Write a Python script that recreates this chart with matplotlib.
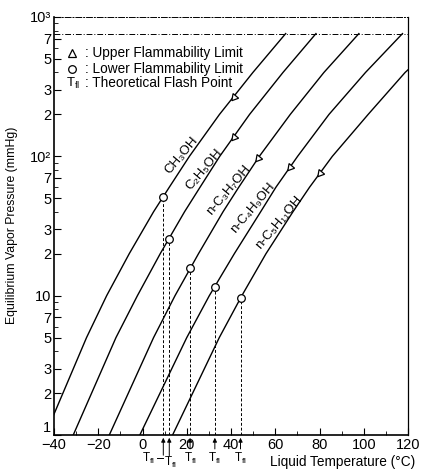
import numpy as np
import matplotlib
matplotlib.use("Agg")
import matplotlib.pyplot as plt
from matplotlib.ticker import FixedLocator, NullFormatter

plt.rcParams['font.family'] = ['Liberation Sans', 'DejaVu Sans']
plt.rcParams['mathtext.fontset'] = 'custom'
plt.rcParams['mathtext.rm'] = 'Liberation Sans'
plt.rcParams['mathtext.it'] = 'Liberation Sans'

# --- dados (pressao em mmHg, temperatura em C) ---
pressures = [1, 5, 10, 20, 40, 60, 100, 200, 400, 760]
t_methanol = [-44.0, -25.3, -16.2, -6.0, 5.0, 12.1, 21.2, 34.8, 49.9, 64.7]
t_ethanol = [-31.3, -12.0, -2.3, 8.0, 19.0, 26.0, 34.9, 48.4, 63.5, 78.4]
t_propanol = [-15.0, 5.0, 14.7, 25.3, 36.4, 43.5, 52.8, 66.8, 82.0, 97.8]
t_butanol = [-1.2, 20.0, 30.2, 41.5, 53.4, 60.3, 70.1, 84.3, 100.8, 117.5]
t_pentanol = [13.6, 34.7, 44.9, 55.8, 68.0, 75.5, 85.8, 102.0, 118.7, 137.8]

names = ["CH\u2083OH", "C\u2082H\u2085OH", "n-C\u2083H\u2087OH", "n-C\u2084H\u2089OH", "n-C\u2085H\u2081\u2081OH"]

# limite inferior (circulo) = ponto de fulgor teorico
lfl_t = [9.4, 12.1, 21.5, 32.7, 44.3]
lfl_p = [51, 25.5, 15.8, 11.6, 9.6]
# limite superior (triangulo)
ufl_t = [41.2, 41.2, 52.4, 66.7, 80.2]
ufl_p = [268, 138, 98, 84, 76]

# posicao dos nomes das curvas
label_t = [17.9, 27.8, 39.0, 50.1, 61.8]
label_p = [102, 80, 57, 42.6, 33.8]

fig = plt.figure(figsize=(4.22, 4.69), dpi=100)
ax = fig.add_axes([54 / 422, 34 / 469, 354 / 422, 418 / 469])

for temps in [t_methanol, t_ethanol, t_propanol, t_butanol, t_pentanol]:
    ax.plot(temps, pressures, color='black', lw=1.0)

ax.plot(lfl_t, lfl_p, linestyle='none', marker='o', ms=5.5, mfc='white', mec='black', mew=0.9, zorder=5)
ax.plot(ufl_t, ufl_p, linestyle='none', marker=(3, 0, 140), ms=6, mfc='white', mec='black', mew=0.9, zorder=5)

for t, p in zip(lfl_t, lfl_p):
    ax.plot([t, t], [1, p], color='black', lw=0.7, ls=(0, (3, 2)), zorder=3)

for name, t, p in zip(names, label_t, label_p):
    ax.text(t, p, name, rotation=50, ha='center', va='center', fontsize=9.5)

# linha de 760 mmHg
ax.axhline(760, color='black', lw=0.7, ls=(0, (6, 2, 1, 2)))

ax.set_yscale('log')
ax.set_xlim(-40, 120)
ax.set_ylim(1, 1000)

ax.set_xticks([-40, -20, 0, 20, 40, 60, 80, 100, 120])
ax.set_xticklabels(['\u221240', '\u221220', '0', '20', '40', '60', '80', '100', '120'])
ax.set_xticks(np.arange(-30, 120, 20), minor=True)

ymaj = [1, 2, 3, 5, 7, 10, 20, 30, 50, 70, 100, 200, 300, 500, 700, 1000]
ylab = ['1', '2', '3', '5', '7', '10', '2', '3', '5', '7', '10\u00b2', '2', '3', '5', '7', '10\u00b3']
ax.yaxis.set_major_locator(FixedLocator(ymaj))
ax.set_yticklabels(ylab)
ax.yaxis.set_minor_locator(FixedLocator([4, 6, 8, 9, 40, 60, 80, 90, 400, 600, 800, 900]))
ax.yaxis.set_minor_formatter(NullFormatter())

ax.tick_params(which='major', direction='in', length=5, width=0.8, labelsize=10.5, pad=2)
ax.tick_params(which='minor', direction='in', length=3, width=0.6)
ax.tick_params(axis='x', which='major', pad=2)
ax.get_yticklabels()[0].set_verticalalignment('bottom')

for s in ['left', 'bottom']:
    ax.spines[s].set_linewidth(1.2)
ax.spines['right'].set_linewidth(0.9)
ax.spines['top'].set_linewidth(0.7)
ax.spines['top'].set_linestyle((0, (6, 2, 1, 2)))

# legenda manual
leg_y = [0.913, 0.876, 0.842]
ax.plot([0.051], [leg_y[0]], transform=ax.transAxes, marker='^', ms=6, mfc='white', mec='black', mew=0.9, linestyle='none')
ax.plot([0.051], [leg_y[1]], transform=ax.transAxes, marker='o', ms=5.5, mfc='white', mec='black', mew=0.9, linestyle='none')
ax.text(0.033, leg_y[2], r'T$_{\mathrm{fl}}$', transform=ax.transAxes, fontsize=9.5, va='center')
leg_txt = [': Upper Flammability Limit', ': Lower Flammability Limit', ': Theoretical Flash Point']
for y, txt in zip(leg_y, leg_txt):
    ax.text(0.088, y, txt, transform=ax.transAxes, fontsize=9.8, va='center')

# setas T_fl abaixo do eixo
trans = ax.get_xaxis_transform()
for i, t in enumerate(lfl_t):
    if i == 0:
        ax.annotate('', xy=(t, 0), xytext=(t, -0.055), xycoords=trans, textcoords=trans,
                    arrowprops=dict(arrowstyle='-|>', color='black', lw=0.7, mutation_scale=6))
        ax.plot([t, t - 3.0], [-0.055, -0.055], transform=trans, color='black', lw=0.7, clip_on=False)
        ax.text(t - 6.8, -0.055, r'T$_{\mathrm{fl}}$', transform=trans, fontsize=8.5, ha='center', va='center')
    elif i == 1:
        ax.annotate('', xy=(t, 0), xytext=(t, -0.056), xycoords=trans, textcoords=trans,
                    arrowprops=dict(arrowstyle='-|>', color='black', lw=0.7, mutation_scale=6))
        ax.text(t + 0.5, -0.066, r'T$_{\mathrm{fl}}$', transform=trans, fontsize=8.5, ha='center', va='center')
    else:
        ax.annotate('', xy=(t, 0), xytext=(t, -0.04), xycoords=trans, textcoords=trans,
                    arrowprops=dict(arrowstyle='-|>', color='black', lw=0.7, mutation_scale=6))
        ax.text(t, -0.056, r'T$_{\mathrm{fl}}$', transform=trans, fontsize=8.5, ha='center', va='center')

ax.text(0.814, -0.064, 'Liquid Temperature (\u00b0C)', transform=ax.transAxes, fontsize=9.8, ha='center', va='center')
fig.text(12 / 422, 0.52, 'Equilibrium Vapor Pressure (mmHg)', rotation=90, fontsize=8.8, ha='center', va='center')

fig.savefig('out.png', dpi=100)
plt.close(fig)
